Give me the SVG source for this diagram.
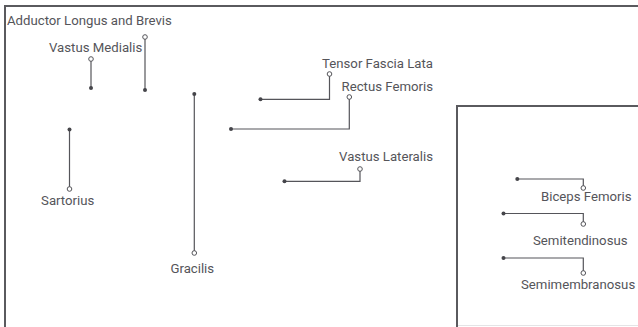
<svg xmlns="http://www.w3.org/2000/svg" width="638" height="327" viewBox="0 0 638 327">
<style>
.frame{fill:none;stroke:#5a5a5e;stroke-width:2}
.lbl{font-family:Roboto,"Liberation Sans",sans-serif;font-size:13.2px;fill:#55555a}
.ln{fill:none;stroke:#55555a;stroke-width:1.2}
.dot{fill:#45454a}
.ring{fill:#fff;stroke:#55555a;stroke-width:1}
.end{text-anchor:end}
.mid{text-anchor:middle}
</style>
<rect width="638" height="327" fill="#fff"/>
<rect id="frame-outer" class="frame" x="5" y="6" width="640" height="330"/>
<rect id="frame-inner" class="frame" x="457" y="106" width="190" height="230"/>
<line x1="458" y1="325.5" x2="638" y2="325.5" stroke="#e4e4e6" stroke-width="1"/>
<g id="connectors">
<path class="ln" d="M91,59V88"/>
<path class="ln" d="M145,37V90"/>
<path class="ln" d="M194.3,94V253"/>
<path class="ln" d="M69.5,129.5V189"/>
<path class="ln" d="M329.5,74V99.3H260.5"/>
<path class="ln" d="M349.3,97V129H231"/>
<path class="ln" d="M360,169V181.3H284.5"/>
<path class="ln" d="M517.3,179H583.3V188"/>
<path class="ln" d="M503.5,213.5H583.3V224"/>
<path class="ln" d="M503.5,258H583.3V273"/>
<circle class="dot" cx="91" cy="88" r="2"/><circle class="ring" cx="91" cy="59" r="2.3"/>
<circle class="dot" cx="145" cy="90" r="2"/><circle class="ring" cx="145" cy="37" r="2.3"/>
<circle class="dot" cx="194.3" cy="94" r="2"/><circle class="ring" cx="194.3" cy="253" r="2.3"/>
<circle class="dot" cx="69.5" cy="129.5" r="2"/><circle class="ring" cx="69.5" cy="189" r="2.3"/>
<circle class="dot" cx="260.5" cy="99.3" r="2"/><circle class="ring" cx="329.5" cy="74" r="2.3"/>
<circle class="dot" cx="231" cy="129" r="2"/><circle class="ring" cx="349.3" cy="97" r="2.3"/>
<circle class="dot" cx="284.5" cy="181.3" r="2"/><circle class="ring" cx="360" cy="169" r="2.3"/>
<circle class="dot" cx="517.3" cy="179" r="2"/><circle class="ring" cx="583.3" cy="188" r="2.3"/>
<circle class="dot" cx="503.5" cy="213.5" r="2"/><circle class="ring" cx="583.3" cy="224" r="2.3"/>
<circle class="dot" cx="503.5" cy="258" r="2"/><circle class="ring" cx="583.3" cy="273" r="2.3"/>
</g>
<g id="adductor"><text class="lbl" x="7" y="25">Adductor Longus and Brevis</text></g>
<g id="vastus-medialis"><text class="lbl" x="49" y="52">Vastus Medialis</text></g>
<g id="sartorius"><text class="lbl mid" x="67.7" y="205">Sartorius</text></g>
<g id="gracilis"><text class="lbl mid" x="192.3" y="273">Gracilis</text></g>
<g id="tensor"><text class="lbl end" x="433" y="67.5">Tensor Fascia Lata</text></g>
<g id="rectus"><text class="lbl end" x="433" y="91">Rectus Femoris</text></g>
<g id="vastus-lateralis"><text class="lbl end" x="433" y="161">Vastus Lateralis</text></g>
<g id="biceps"><text class="lbl" x="541" y="201">Biceps Femoris</text></g>
<g id="semitendinosus"><text class="lbl" x="533" y="245">Semitendinosus</text></g>
<g id="semimembranosus"><text class="lbl" x="521" y="289">Semimembranosus</text></g>
</svg>
